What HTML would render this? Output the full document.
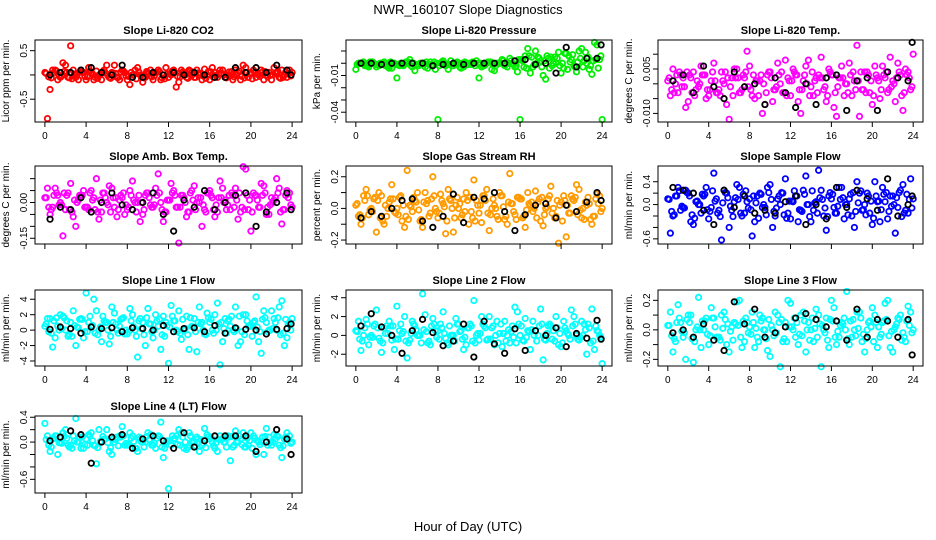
<!DOCTYPE html>
<html><head><meta charset="utf-8"><style>
body{margin:0;background:#fff}
svg{display:block;font-family:"Liberation Sans",Arial,sans-serif}
</style></head><body>
<svg id="chart" width="936" height="540" viewBox="0 0 936 540">
<text x="468" y="14" text-anchor="middle" font-size="13">NWR_160107  Slope Diagnostics</text>
<text x="468" y="531" text-anchor="middle" font-size="13">Hour of Day (UTC)</text>
</svg>
<script>
const hoursA=[0,0.5,1,1.5,2,2.5,3,3.5,4,4.5,5,5.5,6,6.5,7,7.5,8,8.5,9,9.5,10,10.5,11,11.5,12,12.5,13,13.5,14,14.5,15,15.5,16,16.5,17,17.5,18,18.5,19,19.5,20,20.5,21,21.5,22,22.5,23,23.5,24];
const hoursB=[0.25,0.75,1.25,1.75,2.25,2.75,3.25,3.75,4.25,4.75,5.25,5.75,6.25,6.75,7.25,7.75,8.25,8.75,9.25,9.75,10.25,10.75,11.25,11.75,12.25,12.75,13.25,13.75,14.25,14.75,15.25,15.75,16.25,16.75,17.25,17.75,18.25,18.75,19.25,19.75,20.25,20.75,21.25,21.75,22.25,22.75,23.25,23.75];
const hoursC=[0.125,0.625,1.125,1.625,2.125,2.625,3.125,3.625,4.125,4.625,5.125,5.625,6.125,6.625,7.125,7.625,8.125,8.625,9.125,9.625,10.125,10.625,11.125,11.625,12.125,12.625,13.125,13.625,14.125,14.625,15.125,15.625,16.125,16.625,17.125,17.625,18.125,18.625,19.125,19.625,20.125,20.625,21.125,21.625,22.125,22.625,23.125,23.625];
const hoursD=[0.375,0.875,1.375,1.875,2.375,2.875,3.375,3.875,4.375,4.875,5.375,5.875,6.375,6.875,7.375,7.875,8.375,8.875,9.375,9.875,10.375,10.875,11.375,11.875,12.375,12.875,13.375,13.875,14.375,14.875,15.375,15.875,16.375,16.875,17.375,17.875,18.375,18.875,19.375,19.875,20.375,20.875,21.375,21.875,22.375,22.875,23.375,23.875];
const blackHours=[0.5,1.5,2.5,3.5,4.5,5.5,6.5,7.5,8.5,9.5,10.5,11.5,12.5,13.5,14.5,15.5,16.5,17.5,18.5,19.5,20.5,21.5,22.5,23.5,23.9];
const xTicks=[0,4,8,12,16,20,24];

const co2A=[0.05,-0.3,0.1,-0.05,0.2,0.6,-0.05,0.1,-0.1,0.05,0.08,-0.1,0.2,0.05,-0.05,0.1,-0.1,0.0,0.15,-0.15,0.05,-0.1,0.1,0.0,-0.05,0.1,-0.15,0.05,0.1,-0.05,0.0,0.12,-0.1,0.05,0.1,-0.05,0.0,0.1,-0.1,0.15,0.05,-0.05,0.1,0.0,-0.1,0.05,0.1,-0.05,0.05];
const co2B=[-0.9,0.1,-0.1,0.25,-0.05,0.1,-0.1,0.05,0.15,-0.1,0.0,0.1,-0.05,0.2,-0.1,0.05,-0.2,0.1,0.0,-0.05,0.1,0.05,-0.1,0.15,0.0,-0.25,0.1,-0.05,0.05,0.1,-0.1,0.0,0.15,-0.05,0.1,0.0,-0.1,0.05,0.2,-0.05,0.1,0.0,-0.1,0.05,0.15,-0.05,0.0,0.1];
const co2C=[0.03,-0.06,0.08,-0.02,0.05,-0.08,0.0,0.06,-0.04,0.02,-0.07,0.07,-0.01,0.04,-0.05,0.08,-0.03,0.01,0.06,-0.06,0.03,-0.02,0.07,-0.08,0.02,0.05,-0.04,0.0,0.08,-0.05,0.03,-0.07,0.06,-0.01,0.04,-0.06,0.07,0.01,-0.03,0.05,-0.08,0.02,0.06,-0.04,0.0,0.07,-0.05,0.03];
const co2D=[-0.04,0.05,-0.01,0.07,-0.06,0.02,0.06,-0.03,0.08,-0.05,0.01,0.04,-0.07,0.03,0.06,-0.02,0.05,-0.08,0.0,0.07,-0.04,0.05,-0.06,0.02,0.08,-0.03,0.06,-0.07,0.01,0.04,-0.02,0.07,-0.05,0.03,0.0,0.06,-0.04,0.08,-0.06,0.02,0.05,-0.03,0.07,-0.01,0.04,-0.07,0.06,-0.02];
const co2K=[0.0,0.05,0.05,0.1,0.15,0.05,0.0,0.2,-0.05,-0.05,0.05,0.0,0.05,0.0,0.05,0.0,-0.05,-0.05,0.15,0.05,0.15,0.05,0.2,0.1,0.0];
const co2Ticks=[0.5,0,-0.5];const co2Labels=["0.5","","-0.5"];

const presA=[-0.005,0.0,-0.002,0.001,-0.003,0.0,-0.002,-0.004,-0.012,-0.001,0.0,-0.003,-0.002,0.0,-0.004,-0.001,-0.046,0.002,-0.005,-0.002,0.0,-0.003,-0.001,0.0,-0.012,-0.002,0.001,-0.006,0.0,-0.002,0.004,-0.003,-0.046,0.006,-0.008,0.01,0.002,-0.013,0.005,0.0,-0.008,0.008,0.003,-0.007,0.012,0.0,-0.009,0.015,-0.046];
const presB=[0.0,0.001,-0.003,0.0,-0.002,0.001,-0.004,0.0,-0.002,-0.001,0.003,-0.006,0.0,-0.003,0.001,-0.005,0.0,-0.002,0.002,0.0,-0.004,0.0,-0.001,0.002,-0.003,0.0,-0.005,0.0,0.003,-0.003,0.0,-0.007,0.002,0.012,-0.003,0.005,-0.01,0.004,0.0,0.009,-0.004,0.006,-0.002,0.01,0.002,-0.005,0.017,0.003];
const presC=[-0.001,0.0,-0.002,0.001,-0.001,0.0,-0.003,0.0,-0.001,-0.002,0.001,0.0,-0.002,0.0,-0.001,0.001,-0.002,0.0,-0.001,0.0,-0.003,0.001,0.0,-0.002,0.0,-0.001,0.001,-0.002,0.0,-0.001,0.002,-0.002,0.003,-0.004,0.005,0.0,-0.003,0.006,-0.002,0.004,0.0,-0.005,0.007,0.001,-0.003,0.005,0.002,-0.004];
const presD=[0.0,-0.002,0.001,-0.001,0.0,-0.002,0.001,-0.001,0.0,0.001,-0.002,-0.001,0.0,0.001,-0.002,0.0,0.001,-0.001,-0.002,0.001,0.0,-0.001,0.001,0.0,-0.002,0.001,-0.001,0.0,0.002,0.0,-0.001,0.003,-0.003,0.006,-0.001,0.004,0.002,-0.004,0.005,-0.002,0.008,0.001,-0.003,0.004,0.009,-0.002,0.003,0.006];
const presK=[0.0,0.0,-0.001,0.0,0.0,0.0,0.0,-0.002,-0.001,0.0,-0.001,0.0,0.0,0.0,0.0,0.002,0.003,-0.001,0.0,-0.008,0.013,-0.003,0.004,0.004,0.015];
const presTicks=[0.01,0,-0.01,-0.02,-0.03,-0.04];const presLabels=["","","-0.01","","","-0.04"];

const tempA=[0.001,0.005,-0.003,0.002,-0.006,0.004,-0.001,0.003,-0.004,0.007,-0.002,0.0,-0.012,0.005,-0.003,0.002,0.006,-0.005,0.001,-0.007,0.004,-0.002,0.0,0.008,-0.004,0.003,-0.010,0.006,-0.001,0.002,0.009,-0.006,0.003,-0.011,0.006,0.0,-0.004,0.013,-0.002,0.004,-0.007,0.002,0.006,-0.003,0.001,0.007,-0.009,0.004,0.010];
const tempB=[-0.004,0.0,0.003,-0.008,0.002,-0.002,0.006,-0.005,0.001,-0.003,0.004,-0.007,0.002,0.005,-0.002,0.011,-0.004,0.001,-0.010,0.003,-0.006,0.007,-0.003,0.002,0.005,-0.006,0.001,0.008,-0.004,0.003,-0.002,0.005,-0.008,0.002,-0.004,0.007,0.001,-0.011,0.004,-0.003,0.006,-0.005,0.002,0.009,-0.006,0.003,0.005,-0.002];
const tempC=[0.002,-0.003,0.004,-0.001,0.003,-0.004,0.0,0.003,-0.002,0.001,-0.004,0.004,-0.001,0.002,-0.003,0.004,-0.002,0.001,0.003,-0.003,0.002,-0.001,0.004,-0.004,0.001,0.003,-0.002,0.0,0.004,-0.003,0.002,-0.004,0.003,-0.001,0.002,-0.003,0.004,0.001,-0.002,0.003,-0.004,0.001,0.003,-0.002,0.0,0.004,-0.003,0.002];
const tempD=[-0.002,0.003,-0.001,0.004,-0.003,0.001,0.003,-0.002,0.004,-0.003,0.001,0.002,-0.004,0.002,0.003,-0.001,0.003,-0.004,0.0,0.004,-0.002,0.003,-0.003,0.001,0.004,-0.002,0.003,-0.004,0.001,0.002,-0.001,0.004,-0.003,0.002,0.0,0.003,-0.002,0.004,-0.003,0.001,0.003,-0.002,0.004,-0.001,0.002,-0.004,0.003,-0.001];
const tempK=[0.001,0.003,-0.003,0.006,-0.001,-0.005,0.004,-0.001,0.0,-0.007,0.002,-0.003,-0.008,0.0,-0.007,0.002,0.003,-0.009,0.001,0.002,-0.009,0.004,0.002,0.001,0.014];
const tempTicks=[0.010,0.005,0,-0.005,-0.010];const tempLabels=["","0.005","","","-0.010"];

const ambA=[0.02,-0.05,0.06,0.0,-0.03,0.08,-0.1,0.03,-0.02,0.05,0.1,-0.04,0.0,0.06,-0.06,0.02,-0.03,0.09,0.0,-0.05,0.04,-0.02,0.12,-0.08,0.01,0.05,-0.17,0.02,-0.04,0.07,0.0,-0.03,0.05,-0.06,0.09,0.01,-0.03,0.06,-0.04,0.14,-0.12,0.03,0.08,-0.05,0.02,0.1,-0.09,0.05,-0.02];
const ambB=[0.06,-0.02,0.03,-0.14,0.04,-0.06,0.01,0.05,-0.03,0.02,-0.07,0.04,0.07,-0.02,0.01,-0.05,0.05,0.0,-0.08,0.03,-0.01,0.06,0.0,-0.04,0.08,-0.02,0.03,-0.06,0.05,0.0,-0.1,0.04,0.02,-0.04,0.06,-0.01,0.03,-0.07,0.15,-0.03,0.04,-0.02,0.07,-0.05,0.01,0.06,-0.03,0.04];
const ambC=[0.02,-0.03,0.04,-0.01,0.03,-0.04,0.0,0.03,-0.02,0.01,-0.04,0.04,-0.01,0.02,-0.03,0.04,-0.02,0.01,0.03,-0.03,0.02,-0.01,0.04,-0.04,0.01,0.03,-0.02,0.0,0.04,-0.03,0.02,-0.04,0.03,-0.01,0.02,-0.03,0.04,0.01,-0.02,0.03,-0.04,0.01,0.03,-0.02,0.0,0.04,-0.03,0.02];
const ambD=[-0.02,0.03,-0.01,0.04,-0.03,0.01,0.03,-0.02,0.04,-0.03,0.01,0.02,-0.04,0.02,0.03,-0.01,0.03,-0.04,0.0,0.04,-0.02,0.03,-0.03,0.01,0.04,-0.02,0.03,-0.04,0.01,0.02,-0.01,0.04,-0.03,0.02,0.0,0.03,-0.02,0.04,-0.03,0.01,0.03,-0.02,0.04,-0.01,0.02,-0.04,0.03,-0.01];
const ambK=[-0.07,-0.02,-0.03,0.02,-0.04,0.0,0.04,-0.01,-0.03,0.0,0.04,-0.05,-0.12,0.01,-0.02,0.05,-0.03,0.0,0.03,0.04,-0.1,-0.04,0.0,0.04,-0.03];
const ambTicks=[0.10,0.05,0,-0.05,-0.10,-0.15];const ambLabels=["","","0.00","","","-0.15"];

const rhA=[0.02,-0.1,0.12,0.0,-0.15,0.08,-0.05,0.15,0.0,-0.08,0.24,-0.02,0.1,-0.12,0.05,0.2,-0.06,0.03,0.12,-0.15,0.0,0.06,-0.1,0.18,-0.03,0.08,-0.14,0.02,0.1,-0.07,0.22,-0.04,0.06,-0.12,0.02,0.11,-0.08,0.0,0.14,-0.05,0.04,-0.18,0.08,0.15,-0.06,0.02,-0.1,0.09,0.0];
const rhB=[-0.05,0.08,-0.04,0.06,0.1,-0.1,0.04,-0.02,0.07,-0.12,0.02,0.05,-0.08,0.1,-0.03,0.0,0.09,-0.16,0.05,0.02,-0.06,0.1,-0.02,0.05,-0.09,0.12,0.0,-0.05,0.08,-0.1,0.03,0.07,-0.06,0.1,-0.02,0.04,-0.11,0.06,0.0,-0.22,0.08,-0.03,0.05,0.12,-0.07,0.03,-0.05,0.08];
const rhC=[0.03,-0.06,0.08,-0.02,0.05,-0.08,0.0,0.06,-0.04,0.02,-0.07,0.07,-0.01,0.04,-0.05,0.08,-0.03,0.01,0.06,-0.06,0.03,-0.02,0.07,-0.08,0.02,0.05,-0.04,0.0,0.08,-0.05,0.03,-0.07,0.06,-0.01,0.04,-0.06,0.07,0.01,-0.03,0.05,-0.08,0.02,0.06,-0.04,0.0,0.07,-0.05,0.03];
const rhD=[-0.04,0.05,-0.01,0.07,-0.06,0.02,0.06,-0.03,0.08,-0.05,0.01,0.04,-0.07,0.03,0.06,-0.02,0.05,-0.08,0.0,0.07,-0.04,0.05,-0.06,0.02,0.08,-0.03,0.06,-0.07,0.01,0.04,-0.02,0.07,-0.05,0.03,0.0,0.06,-0.04,0.08,-0.06,0.02,0.05,-0.03,0.07,-0.01,0.04,-0.07,0.06,-0.02];
const rhK=[-0.06,-0.02,-0.05,0.0,0.05,0.06,-0.08,-0.12,-0.05,0.09,-0.09,0.07,0.06,0.1,-0.02,-0.14,-0.04,0.02,0.03,-0.06,0.02,-0.02,0.04,0.1,0.05];
const rhTicks=[0.2,0.1,0,-0.1,-0.2];const rhLabels=["0.2","","0.0","","-0.2"];

const sfA=[0.1,-0.2,0.3,-0.05,0.2,-0.35,0.0,0.15,-0.25,0.55,-0.1,0.25,-0.4,0.05,0.3,-0.15,0.1,-0.3,0.2,-0.05,0.35,-0.2,0.0,0.45,-0.25,0.15,-0.1,0.5,-0.3,0.05,0.25,-0.45,0.1,-0.15,0.3,0.0,-0.2,0.4,-0.1,0.2,-0.35,0.05,0.3,-0.25,0.15,-0.05,0.35,-0.15,0.1];
const sfB=[-0.5,0.15,-0.1,0.25,-0.3,0.05,-0.15,0.3,-0.05,0.1,-0.62,0.2,-0.1,0.35,-0.2,0.05,-0.55,0.15,-0.05,0.3,-0.4,0.1,0.2,-0.15,0.05,-0.3,0.25,0.0,-0.1,0.6,-0.2,0.15,-0.05,0.3,-0.25,0.1,-0.4,0.2,0.0,-0.15,0.4,-0.3,0.05,0.15,-0.5,0.25,-0.1,0.45];
const sfC=[0.09,-0.18,0.24,-0.06,0.15,-0.24,0.0,0.18,-0.12,0.06,-0.21,0.21,-0.03,0.12,-0.15,0.24,-0.09,0.03,0.18,-0.18,0.09,-0.06,0.21,-0.24,0.06,0.15,-0.12,0.0,0.24,-0.15,0.09,-0.21,0.18,-0.03,0.12,-0.18,0.21,0.03,-0.09,0.15,-0.24,0.06,0.18,-0.12,0.0,0.21,-0.15,0.09];
const sfD=[-0.12,0.15,-0.03,0.21,-0.18,0.06,0.18,-0.09,0.24,-0.15,0.03,0.12,-0.21,0.09,0.18,-0.06,0.15,-0.24,0.0,0.21,-0.12,0.15,-0.18,0.06,0.24,-0.09,0.18,-0.21,0.03,0.12,-0.06,0.21,-0.15,0.09,0.0,0.18,-0.12,0.24,-0.18,0.06,0.15,-0.09,0.21,-0.03,0.12,-0.21,0.18,-0.06];
const sfK=[0.3,0.25,0.2,-0.1,-0.35,0.25,-0.05,0.15,-0.15,-0.1,-0.15,0.05,0.15,-0.35,0.0,-0.25,0.3,-0.05,0.25,0.1,-0.1,0.45,-0.2,0.0,0.15];
const sfTicks=[0.4,0.2,0,-0.2,-0.4,-0.6];const sfLabels=["0.4","","0.0","","","-0.6"];

const l1A=[0.5,1.5,-1.0,2.0,0.0,1.0,-2.0,1.5,4.8,0.5,2.5,-1.5,1.0,3.0,0.0,1.5,-0.5,2.0,-3.5,1.0,2.8,-1.0,0.5,1.8,-4.3,1.2,2.5,0.0,-2.5,1.5,3.0,-0.5,1.0,2.0,-4.5,1.5,0.5,3.0,-1.5,2.0,0.5,4.3,-3.0,1.0,2.5,0.0,3.8,-1.0,1.5];
const l1B=[1.5,-2.2,0.5,1.8,-0.8,2.5,0.3,-1.0,1.0,4.0,0.0,1.2,-1.8,2.2,0.5,-0.5,2.8,0.0,1.5,-2.0,0.8,2.0,-2.5,1.0,3.2,0.0,-1.2,1.8,0.5,-2.8,1.0,2.2,0.0,3.5,-1.5,1.2,0.0,-2.0,2.0,0.5,1.0,-1.5,2.5,0.0,1.5,3.0,-2.0,1.0];
const l1C=[0.8,-0.4,1.6,0.2,1.2,-0.8,0.4,1.4,-0.2,0.6,-0.6,1.8,0.0,1.0,-0.4,1.6,-0.2,0.4,1.2,-0.6,0.8,0.0,1.4,-0.8,0.4,1.2,-0.4,0.2,1.6,-0.2,0.8,-0.6,1.4,0.0,1.0,-0.4,1.8,0.2,-0.2,1.2,-0.8,0.4,1.4,-0.2,0.2,1.6,-0.4,0.8];
const l1D=[-0.2,1.2,0.0,1.6,-0.6,0.6,1.4,-0.2,1.8,-0.4,0.4,1.0,-0.8,0.8,1.4,0.0,1.2,-0.8,0.2,1.6,-0.2,1.2,-0.6,0.6,1.8,-0.2,1.4,-0.6,0.4,1.0,0.0,1.6,-0.4,0.8,0.2,1.4,-0.2,1.8,-0.6,0.6,1.2,-0.2,1.6,0.0,1.0,-0.6,1.4,0.0];
const l1K=[0.1,0.4,0.2,-0.4,0.4,0.2,0.3,-0.2,0.3,0.2,0.0,0.6,-0.2,0.2,0.3,-0.2,0.6,-0.4,0.3,0.1,0.0,-0.5,0.1,0.2,0.8];
const l1Ticks=[4,2,0,-2,-4];const l1Labels=["4","2","0","-2","-4"];

const l2A=[0.5,-1.6,1.7,0.0,2.7,-1.8,1.0,-0.5,3.1,0.2,-2.4,1.5,0.0,4.4,-0.8,1.8,0.5,2.5,-1.0,0.0,1.2,-1.5,0.8,3.7,-0.5,1.0,2.0,-1.0,0.2,1.5,-0.8,3.0,0.0,1.8,-1.5,0.5,2.8,-0.5,1.0,2.0,-1.2,0.5,2.7,0.0,1.5,-2.0,2.8,0.5,-3.0];
const l2B=[1.5,0.0,-1.0,1.0,-0.3,0.8,1.5,-1.5,0.5,2.0,-0.5,1.0,0.0,2.2,-1.0,0.5,1.2,-0.3,0.0,1.8,0.5,-1.0,1.0,0.0,2.0,-0.5,0.8,1.5,-1.2,0.0,1.0,2.5,-0.5,0.5,1.5,0.0,-2.6,1.0,0.5,-1.0,1.5,0.0,2.0,-0.5,1.2,0.8,-1.5,0.0];
const l2C=[0.4,-0.6,1.2,-0.2,0.8,-0.8,0.2,1.0,-0.4,0.4,-0.8,1.2,0.0,0.6,-0.6,1.2,-0.4,0.2,1.0,-0.6,0.4,-0.2,1.2,-0.8,0.2,0.8,-0.4,0.0,1.2,-0.6,0.4,-0.8,1.0,-0.2,0.6,-0.6,1.2,0.2,-0.4,0.8,-0.8,0.2,1.0,-0.4,0.0,1.2,-0.6,0.4];
const l2D=[-0.4,0.8,-0.2,1.2,-0.6,0.2,1.0,-0.4,1.2,-0.6,0.2,0.6,-0.8,0.4,1.0,-0.2,0.8,-0.8,0.0,1.2,-0.4,0.8,-0.6,0.2,1.2,-0.4,1.0,-0.8,0.2,0.6,-0.2,1.2,-0.6,0.4,0.0,1.0,-0.4,1.2,-0.6,0.2,0.8,-0.4,1.2,-0.2,0.6,-0.8,1.0,-0.2];
const l2K=[1.0,2.3,0.9,0.0,-1.9,0.5,1.7,0.3,-1.1,-0.6,1.2,-2.3,1.5,-0.9,-1.9,0.7,-1.6,0.5,0.0,0.8,-1.2,0.2,-0.3,1.6,-0.4];
const l2Ticks=[4,2,0,-2];const l2Labels=["4","2","0","-2"];

const l3A=[0.03,-0.15,0.17,-0.05,0.1,-0.22,0.22,0.0,-0.1,0.08,-0.05,0.12,-0.15,0.05,0.2,-0.08,0.02,-0.12,0.1,0.0,-0.18,0.12,-0.25,0.05,0.18,-0.05,0.1,-0.15,0.0,0.14,-0.25,0.08,0.2,-0.1,0.05,0.26,-0.05,0.12,-0.08,0.0,0.15,-0.12,0.05,0.2,-0.15,0.08,-0.02,0.16,0.0];
const l3B=[0.12,-0.08,0.05,-0.2,0.1,0.0,-0.12,0.08,0.15,-0.05,0.1,-0.1,0.02,0.19,-0.12,0.05,0.12,-0.05,0.08,-0.14,0.0,0.1,-0.08,0.2,0.0,-0.1,0.12,0.05,-0.08,0.1,0.0,-0.12,0.15,-0.05,0.08,-0.1,0.0,0.12,-0.15,0.06,0.1,-0.05,0.18,-0.12,0.02,0.1,-0.08,0.12];
const l3C=[0.03,-0.06,0.08,-0.02,0.05,-0.08,0.0,0.06,-0.04,0.02,-0.07,0.07,-0.01,0.04,-0.05,0.08,-0.03,0.01,0.06,-0.06,0.03,-0.02,0.07,-0.08,0.02,0.05,-0.04,0.0,0.08,-0.05,0.03,-0.07,0.06,-0.01,0.04,-0.06,0.07,0.01,-0.03,0.05,-0.08,0.02,0.06,-0.04,0.0,0.07,-0.05,0.03];
const l3D=[-0.04,0.05,-0.01,0.07,-0.06,0.02,0.06,-0.03,0.08,-0.05,0.01,0.04,-0.07,0.03,0.06,-0.02,0.05,-0.08,0.0,0.07,-0.04,0.05,-0.06,0.02,0.08,-0.03,0.06,-0.07,0.01,0.04,-0.02,0.07,-0.05,0.03,0.0,0.06,-0.04,0.08,-0.06,0.02,0.05,-0.03,0.07,-0.01,0.04,-0.07,0.06,-0.02];
const l3K=[-0.02,0.0,-0.05,0.04,-0.07,-0.14,0.19,0.04,0.14,-0.05,-0.02,0.02,0.08,0.11,0.07,0.02,0.06,-0.07,0.14,-0.05,0.07,0.06,-0.05,0.07,-0.17];
const l3Ticks=[0.2,0.1,0,-0.1,-0.2];const l3Labels=["0.2","","0.0","","-0.2"];

const l4A=[0.3,-0.15,0.1,0.0,0.2,-0.05,0.38,-0.1,0.05,0.15,-0.35,0.0,0.2,-0.2,0.08,0.25,-0.05,0.1,-0.15,0.0,0.15,-0.05,0.1,-0.25,-0.75,0.05,0.2,-0.1,0.15,0.0,-0.15,0.22,0.05,-0.1,0.1,0.0,-0.3,0.18,0.05,-0.08,0.15,-0.2,0.0,0.22,-0.05,0.1,-0.25,0.15,0.0];
const l4B=[0.1,0.05,-0.2,0.15,-0.05,0.1,0.0,-0.1,0.12,-0.05,0.2,0.05,-0.15,0.0,0.1,-0.05,0.15,-0.1,0.05,0.0,0.12,-0.1,0.32,0.0,-0.05,0.1,0.15,-0.12,0.0,0.08,-0.05,0.12,0.0,-0.15,0.05,0.1,-0.08,0.0,0.15,-0.05,0.1,0.0,-0.2,0.08,0.12,-0.05,0.05,0.1];
const l4C=[0.04,-0.08,0.1,-0.02,0.06,-0.1,0.0,0.08,-0.05,0.02,-0.09,0.09,-0.01,0.05,-0.06,0.1,-0.04,0.01,0.08,-0.08,0.04,-0.02,0.09,-0.1,0.02,0.06,-0.05,0.0,0.1,-0.06,0.04,-0.09,0.08,-0.01,0.05,-0.08,0.09,0.01,-0.04,0.06,-0.1,0.02,0.08,-0.05,0.0,0.09,-0.06,0.04];
const l4D=[-0.05,0.06,-0.01,0.09,-0.08,0.02,0.08,-0.04,0.1,-0.06,0.01,0.05,-0.09,0.04,0.08,-0.02,0.06,-0.1,0.0,0.09,-0.05,0.06,-0.08,0.02,0.1,-0.04,0.08,-0.09,0.01,0.05,-0.02,0.09,-0.06,0.04,0.0,0.08,-0.05,0.1,-0.08,0.02,0.06,-0.04,0.09,-0.01,0.05,-0.09,0.08,-0.02];
const l4K=[0.02,0.08,0.18,0.12,-0.34,0.0,0.08,0.12,-0.1,0.05,0.1,0.02,-0.1,0.15,-0.08,0.02,0.1,0.1,0.1,0.1,-0.15,0.0,0.2,0.05,-0.2];
const l4Ticks=[0.4,0.2,0,-0.2,-0.4,-0.6];const l4Labels=["0.4","","0.0","","","-0.6"];

const NS="http://www.w3.org/2000/svg";
const svg=document.getElementById("chart");
const cols=[[35,302],[346,612],[658,923]];
const rows=[[40,122],[166,244],[290,366],[416,493]];
const panels=[
 {t:"Slope Li-820 CO2",yl:"Licor ppm per min.",c:0,r:0,ymin:-0.97,ymax:0.72,s:[co2A,co2B,co2C,co2D],k:co2K,ticks:co2Ticks,labels:co2Labels,col:"#ff0000",xl:true,n:"co2"},
 {t:"Slope Li-820 Pressure",yl:"kPa per min.",c:1,r:0,ymin:-0.048,ymax:0.019,s:[presA,presB,presC,presD],k:presK,ticks:presTicks,labels:presLabels,col:"#00ee00",xl:true,n:"pressure"},
 {t:"Slope Li-820 Temp.",yl:"degrees C per min.",c:2,r:0,ymin:-0.0129,ymax:0.0148,s:[tempA,tempB,tempC,tempD],k:tempK,ticks:tempTicks,labels:tempLabels,col:"#ff00ff",xl:true,n:"li820-temp"},
 {t:"Slope Amb. Box Temp.",yl:"degrees C per min.",c:0,r:1,ymin:-0.174,ymax:0.153,s:[ambA,ambB,ambC,ambD],k:ambK,ticks:ambTicks,labels:ambLabels,col:"#ff00ff",xl:false,n:"amb-box-temp"},
 {t:"Slope Gas Stream RH",yl:"percent per min.",c:1,r:1,ymin:-0.225,ymax:0.268,s:[rhA,rhB,rhC,rhD],k:rhK,ticks:rhTicks,labels:rhLabels,col:"#ff9a00",xl:false,n:"gas-stream-rh"},
 {t:"Slope Sample Flow",yl:"ml/min per min.",c:2,r:1,ymin:-0.69,ymax:0.675,s:[sfA,sfB,sfC,sfD],k:sfK,ticks:sfTicks,labels:sfLabels,col:"#0000ff",xl:false,n:"sample-flow"},
 {t:"Slope Line 1 Flow",yl:"ml/min per min.",c:0,r:2,ymin:-4.65,ymax:5.2,s:[l1A,l1B,l1C,l1D],k:l1K,ticks:l1Ticks,labels:l1Labels,col:"#00ffff",xl:true,n:"line1-flow"},
 {t:"Slope Line 2 Flow",yl:"ml/min per min.",c:1,r:2,ymin:-3.25,ymax:4.82,s:[l2A,l2B,l2C,l2D],k:l2K,ticks:l2Ticks,labels:l2Labels,col:"#00ffff",xl:true,n:"line2-flow"},
 {t:"Slope Line 3 Flow",yl:"ml/min per min.",c:2,r:2,ymin:-0.245,ymax:0.27,s:[l3A,l3B,l3C,l3D],k:l3K,ticks:l3Ticks,labels:l3Labels,col:"#00ffff",xl:true,n:"line3-flow"},
 {t:"Slope Line 4 (LT) Flow",yl:"ml/min per min.",c:0,r:3,ymin:-0.82,ymax:0.42,s:[l4A,l4B,l4C,l4D],k:l4K,ticks:l4Ticks,labels:l4Labels,col:"#00ffff",xl:true,n:"line4-flow"}
];
const seriesHours=[hoursA,hoursB,hoursC,hoursD];
function mk(tag,attrs,parent){const e=document.createElementNS(NS,tag);for(const k in attrs)e.setAttribute(k,attrs[k]);(parent||svg).appendChild(e);return e;}
panels.forEach(p=>{
 const [x0,x1]=cols[p.c],[y0,y1]=rows[p.r];
 const g=mk("g",{});
 
 
 const xs=h=>x0+(h+0.96)/25.92*(x1-x0);
 const ys=v=>y1-(v-p.ymin)/(p.ymax-p.ymin)*(y1-y0);
 const tt=mk("text",{x:(x0+x1)/2,y:y0-6,"text-anchor":"middle","font-size":"11","font-weight":"bold"},g);
 tt.textContent=p.t;
 
 
 const cx=x0-26,cy=(y0+y1)/2;
 const yl=mk("text",{x:cx,y:cy,transform:`rotate(-90 ${cx} ${cy})`,"text-anchor":"middle","font-size":"10"},g);
 yl.textContent=p.yl;
 
 
 const pts=mk("g",{fill:"none","stroke-width":"1.8"},g);
 
 
 const draw=(hs,vals,color,nm)=>vals.forEach((v,i)=>{
  const c=mk("circle",{cx:xs(hs[i]),cy:ys(v),r:2.7,stroke:color},pts);
  
  
 });
 p.s.forEach((vals,j)=>draw(seriesHours[j],vals,p.col,'point'));
 draw(blackHours,p.k,"#000",'point-recent');
 const box=mk("rect",{x:x0,y:y0,width:x1-x0,height:y1-y0,fill:"none",stroke:"#000","stroke-width":"1"},g);
 
 
 const ax=mk("g",{stroke:"#000","stroke-width":"1"},g);
 
 
 xTicks.forEach(h=>{
  mk("line",{x1:xs(h),x2:xs(h),y1:y1,y2:y1+5},ax);
  if(p.xl){const t=mk("text",{x:xs(h),y:y1+17,"text-anchor":"middle","font-size":"10",stroke:"none"},ax);t.textContent=h;
   
   }
 });
 mk("line",{x1:xs(0),x2:xs(24),y1:y1,y2:y1},ax);
 p.ticks.forEach((v,i)=>{
  mk("line",{x1:x0-5,x2:x0,y1:ys(v),y2:ys(v)},ax);
  if(p.labels[i]){const lx=x0-8,ly=ys(v);const t=mk("text",{x:lx,y:ly,transform:`rotate(-90 ${lx} ${ly})`,"text-anchor":"middle","font-size":"10",stroke:"none"},ax);t.textContent=p.labels[i];
   
   }
 });
 mk("line",{x1:x0,x2:x0,y1:ys(p.ticks[0]),y2:ys(p.ticks[p.ticks.length-1])},ax);
});
</script>
</body></html>
